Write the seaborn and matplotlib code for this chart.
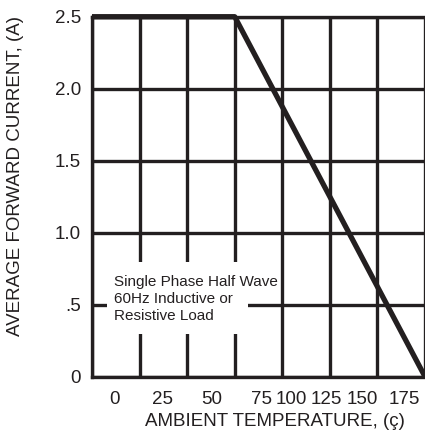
import numpy as np
import pandas as pd
import matplotlib.pyplot as plt
from matplotlib.patches import Rectangle
import seaborn as sns

# derating curve: ambient temperature (C) vs average forward current (A)
temps = [0, 75, 175]
current = [2.5, 2.5, 0.0]

grid_temps = [0, 25, 50, 75, 100, 125, 150, 175]
y_ticks = [0, 0.5, 1.0, 1.5, 2.0, 2.5]
y_labels = ['0', '.5', '1.0', '1.5', '2.0', '2.5']
x_labels = ['0', '25', '50', '75', '100', '125', '150', '175']
# the printed labels sit off the gridlines on the original sheet
x_label_pos = [12, 37, 63, 89, 105, 123, 142, 164]

ink = '#231f20'

sns.set_style('white')
plt.rcParams['font.family'] = ['Liberation Sans', 'DejaVu Sans']

df = pd.DataFrame({'temp': temps, 'current': current})

fig = plt.figure(figsize=(4.25, 4.37), dpi=100)
ax = fig.add_axes([92 / 425, 60.3 / 437, 333 / 425, 360 / 437])

sns.lineplot(data=df, x='temp', y='current', ax=ax, color=ink, linewidth=3.8,
             solid_capstyle='butt', clip_on=False, zorder=4)

ax.set_xlim(0, 175)
ax.set_ylim(0, 2.5)

# gridlines on minor x ticks, labels on major ones
ax.set_xticks(grid_temps, minor=True)
ax.set_xticks(x_label_pos, x_labels)
ax.set_yticks(y_ticks, y_labels)
ax.set_axisbelow(True)
ax.grid(which='minor', axis='x', color=ink, linewidth=2.4)
ax.grid(which='major', axis='y', color=ink, linewidth=2.4)
ax.grid(which='major', axis='x', visible=False)
ax.tick_params(which='both', length=0, labelsize=13.5, colors=ink)
ax.tick_params(axis='x', pad=10)
ax.tick_params(axis='y', pad=8)

for side in ['left', 'bottom', 'top']:
    ax.spines[side].set_color(ink)
    ax.spines[side].set_linewidth(2.4)
ax.spines['right'].set_visible(False)

# white patch behind the note
ax.add_patch(Rectangle((7.9, 0.30), 74, 0.50, facecolor='white', edgecolor='none', zorder=1))
ax.text(11.6, 0.54, 'Single Phase Half Wave\n60Hz Inductive or\nResistive Load',
        fontsize=11, color=ink, va='center', ha='left', linespacing=1.3, zorder=3)

ax.set_xlabel('AMBIENT TEMPERATURE, (ç)', fontsize=13.5, color=ink, va='center')
ax.set_ylabel('AVERAGE FORWARD CURRENT, (A)', fontsize=13.5, color=ink, va='center')
ax.xaxis.set_label_coords(0.55, -0.125)
ax.yaxis.set_label_coords(-0.231, 0.557)

fig.savefig('out.png', dpi=100)
